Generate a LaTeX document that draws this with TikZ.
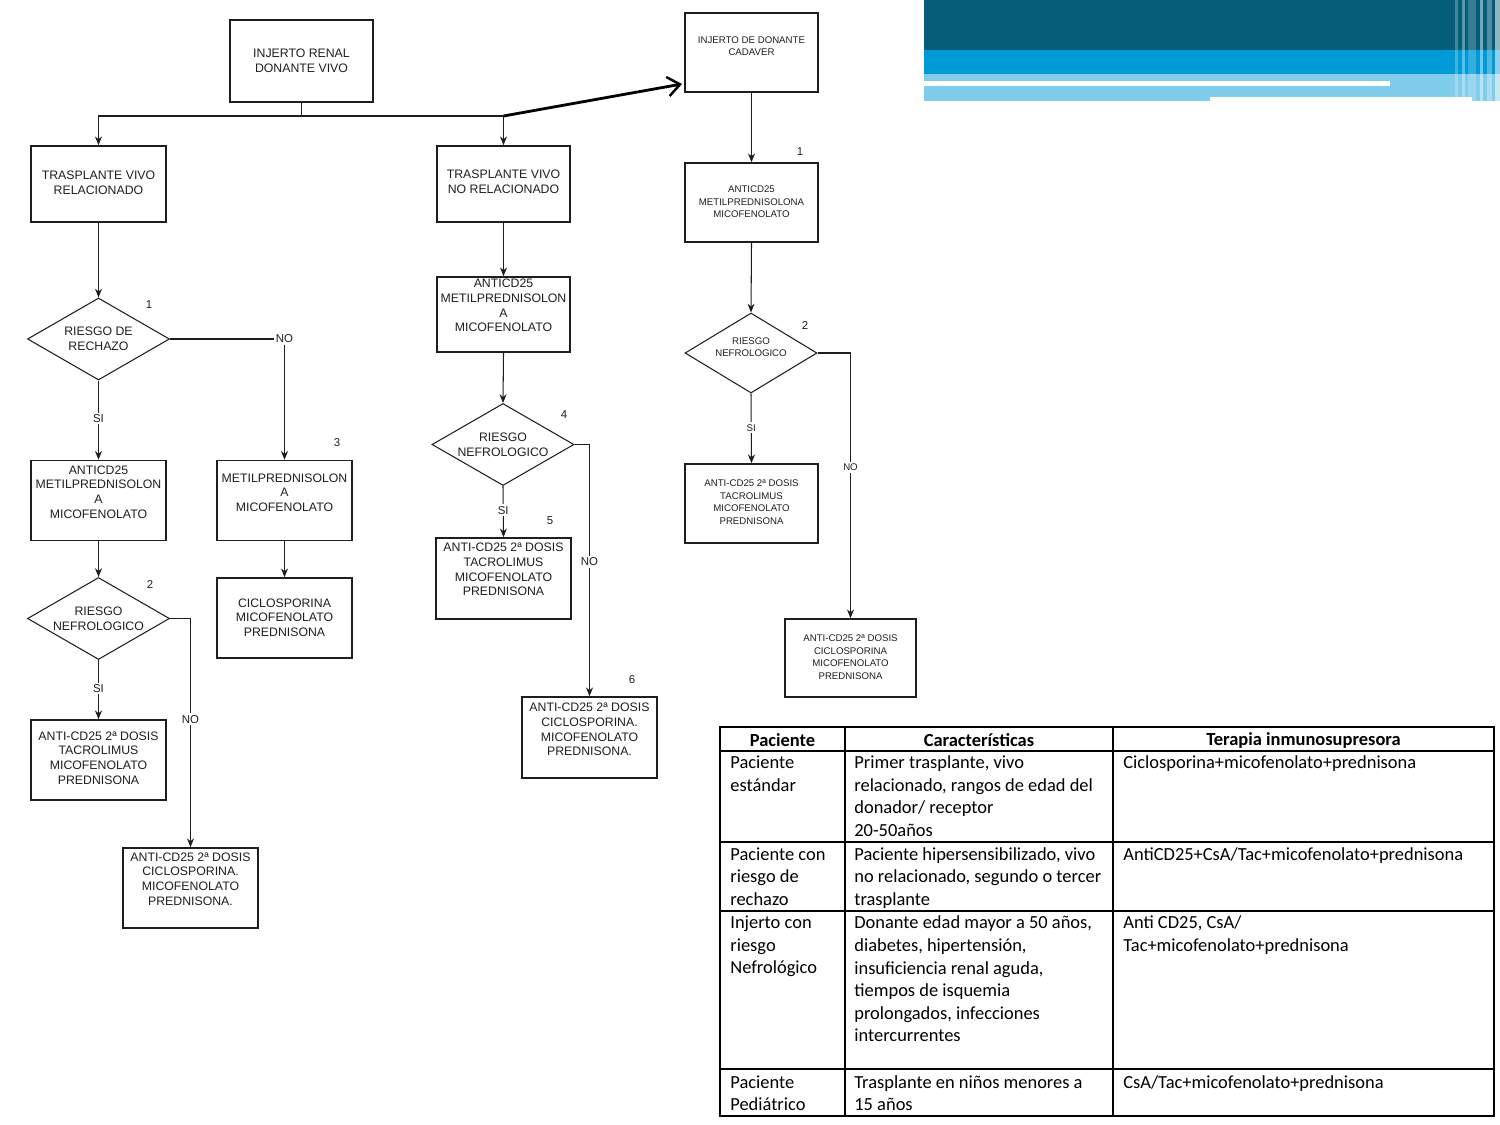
\documentclass[tikz,border=0pt]{standalone}
\usepackage{fontspec}
\setmainfont{Liberation Sans}
\newfontfamily\calib{Carlito}
\usetikzlibrary{arrows.meta,shapes.geometric}
\definecolor{bandA}{HTML}{055E79}
\definecolor{bandB}{HTML}{009AD6}
\definecolor{bandC}{HTML}{80CCEB}
\definecolor{ink}{HTML}{1E1E1E}
\begin{document}
\begin{tikzpicture}[x=0.02cm,y=-0.02cm,
  box/.style={draw=ink,line width=0.9pt,inner sep=0pt,minimum width=135*0.02cm,minimum height=80*0.02cm},
  ft/.style={font=\fontsize{7}{8.3}\selectfont,align=center,inner sep=0pt,text=ink},
  fs/.style={font=\fontsize{5.5}{7.1}\selectfont,align=center,inner sep=0pt,text=ink},
  dia/.style={diamond,draw=ink,line width=0.6pt,inner sep=0pt,aspect=1.73,minimum width=142*0.02cm,minimum height=82*0.02cm,font=\fontsize{7}{8.3}\selectfont,align=center,text=ink},
  ln/.style={draw=ink,line width=0.6pt},
  arr/.style={ln,-{Stealth[length=5pt,width=4pt]}},
  lab/.style={fill=white,inner sep=1pt,font=\fontsize{6.5}{7.5}\selectfont,text=ink},
  num/.style={inner sep=0pt,font=\fontsize{6.5}{7.5}\selectfont,text=ink},
  big/.style={draw=black,line width=1.6pt,-{Straight Barb[length=7pt,width=11pt,line width=1.4pt]}},
  tbl/.style={draw=black,line width=1.1pt},
  tc/.style={font=\calib\fontsize{10.5}{12.9}\selectfont,align=left,inner sep=0pt,anchor=north west,text=black},
  th/.style={font=\calib\bfseries\fontsize{10.5}{12.9}\selectfont,inner sep=0pt}
]
\useasboundingbox (0,0) rectangle (1500,1125);

% ---- decorative band ----
\fill[bandA] (924,0) rectangle (1500,50);
\fill[bandB] (924,50) rectangle (1500,74);
\fill[bandC] (924,74) rectangle (1500,101);
\fill[white] (924,81) rectangle (1390,86);
\fill[white] (1210,97) rectangle (1472,101);
\fill[white,opacity=0.25] (1455,0) rectangle (1458,101);
\fill[white,opacity=0.35] (1462,0) rectangle (1465,101);
\fill[white,opacity=0.2] (1468,0) rectangle (1476,101);
\fill[white,opacity=0.45] (1480,0) rectangle (1483,101);
\fill[white,opacity=0.3] (1487,0) rectangle (1492,101);
\fill[white,opacity=0.55] (1495,0) rectangle (1500,101);

% ---- top ----
\node[box,minimum width=143*0.02cm,minimum height=82*0.02cm] (A) at (301.5,61) {};
\node[ft] (At) at (301.5,61) {INJERTO RENAL\\DONANTE VIVO};
\node[box,minimum width=133*0.02cm,minimum height=79*0.02cm] (D) at (751.5,52.5) {};
\node[fs] (Dt) at (751.5,46) {INJERTO DE DONANTE\\CADAVER};

\node[box,minimum height=76*0.02cm] (B) at (98.5,184) {};
\node[ft] (Bt) at (98.5,183) {TRASPLANTE VIVO\\RELACIONADO};
\node[box,minimum width=133*0.02cm,minimum height=76*0.02cm] (C) at (503.5,184) {};
\node[ft] (Ct) at (503.5,182) {TRASPLANTE VIVO\\NO RELACIONADO};

\coordinate (jA) at (301.5,116);
\coordinate (jC) at (503.5,116);
\coordinate (Dtip) at (682,84);
\draw[ln] (A.south) -- (jA);
\draw[arr] (jA) -| (B.north);
\draw[arr] (jA) -| (C.north);
\draw[big] (jC) -- (Dtip);

% ---- left column ----
\node[dia] (R1) at (98.5,339) {RIESGO DE\\RECHAZO};
\node[num] (n1) at (149,305) {1};
\node[box] (E) at (98.5,500.5) {};
\node[ft] (Et) at (98.5,492) {ANTICD25\\METILPREDNISOLON\\A\\MICOFENOLATO};
\node[box] (F) at (284.5,500.5) {};
\node[ft] (Ft) at (284.5,492.5) {METILPREDNISOLON\\A\\MICOFENOLATO};
\node[num] (n3) at (337,443) {3};
\node[box] (G) at (284.5,618) {};
\node[ft] (Gt) at (284.5,617.5) {CICLOSPORINA\\MICOFENOLATO\\PREDNISONA};
\node[dia] (R2) at (98.5,618.5) {RIESGO\\NEFROLOGICO};
\node[num] (n2) at (150,585) {2};
\node[box] (H) at (98.5,760) {};
\node[ft] (Ht) at (98.5,758) {ANTI-CD25 2ª DOSIS\\TACROLIMUS\\MICOFENOLATO\\PREDNISONA};
\node[box] (I) at (190.5,888) {};
\node[ft] (It) at (190.5,879) {ANTI-CD25 2ª DOSIS\\CICLOSPORINA.\\MICOFENOLATO\\PREDNISONA.};

\draw[arr] (B.south) -- (R1.north);
\draw[arr] (R1.south) -- node[lab,pos=0.48]{SI} (E.north);
\draw[arr] (R1.east) -| node[lab,pos=0.5]{NO} (F.north);
\draw[arr] (F.south) -- (G.north);
\draw[arr] (E.south) -- (R2.north);
\draw[arr] (R2.south) -- node[lab,pos=0.48]{SI} (H.north);
\draw[arr] (R2.east) -| node[lab,pos=0.72]{NO} (I.north);

% ---- middle column ----
\node[box,minimum width=133*0.02cm,minimum height=75*0.02cm] (J) at (503.5,314.5) {};
\node[ft] (Jt) at (503.5,305.5) {ANTICD25\\METILPREDNISOLON\\A\\MICOFENOLATO};
\node[dia] (R4) at (503,444.5) {RIESGO\\NEFROLOGICO};
\node[num] (n4) at (564,415) {4};
\node[box,minimum height=81*0.02cm] (K) at (503.5,578.5) {};
\node[ft] (Kt) at (503.5,569.5) {ANTI-CD25 2ª DOSIS\\TACROLIMUS\\MICOFENOLATO\\PREDNISONA};
\node[num] (n5) at (550,521) {5};
\node[box,minimum height=81*0.02cm] (L) at (589.5,737.5) {};
\node[ft] (Lt) at (589.5,729.5) {ANTI-CD25 2ª DOSIS\\CICLOSPORINA.\\MICOFENOLATO\\PREDNISONA.};
\node[num] (n6) at (632,680) {6};

\draw[arr] (C.south) -- (J.north);
\draw[arr] (J.south) -- (R4.north);
\draw[arr] (R4.south) -- node[lab,pos=0.47]{SI} (K.north);
\draw[arr] (R4.east) -| node[lab,pos=0.733]{NO} (L.north);

% ---- right column ----
\node[box,minimum width=133*0.02cm,minimum height=79*0.02cm] (M) at (751.5,202.5) {};
\node[fs] (Mt) at (751.5,202) {ANTICD25\\METILPREDNISOLONA\\MICOFENOLATO};
\node[num] (n1b) at (800,152) {1};
\node[dia,minimum width=132*0.02cm,minimum height=80*0.02cm,aspect=1.65] (RR) at (751,353) {};
\node[fs] (RRt) at (751,347) {RIESGO\\NEFROLOGICO};
\node[num] (n2b) at (805,326) {2};
\node[box,minimum width=133*0.02cm,minimum height=79*0.02cm] (N) at (751.5,503.5) {};
\node[fs] (Nt) at (751.5,502) {ANTI-CD25 2ª DOSIS\\TACROLIMUS\\MICOFENOLATO\\PREDNISONA};
\node[box,minimum width=131*0.02cm,minimum height=78*0.02cm] (O) at (850.5,658) {};
\node[fs] (Ot) at (850.5,657) {ANTI-CD25 2ª DOSIS\\CICLOSPORINA\\MICOFENOLATO\\PREDNISONA};

\draw[arr] (D.south) -- (M.north);
\draw[arr] (M.south) -- (RR.north);
\draw[arr] (RR.south) -- node[lab,pos=0.49,font=\fontsize{5.5}{7}\selectfont]{SI} (N.north);
\draw[arr] (RR.east) -| node[lab,pos=0.716,font=\fontsize{5.5}{7}\selectfont]{NO} (O.north);

% ---- table ----
\draw[tbl] (720,727) rectangle (1494,1116);
\foreach \yy in {751,842,911,1069} \draw[tbl] (720,\yy) -- (1494,\yy);
\draw[tbl] (845,727) -- (845,1116);
\draw[tbl] (1113,727) -- (1113,1116);

\node[th] (h1) at (782.5,740) {Paciente};
\node[th] (h2) at (979,740) {Características};
\node[th] (h3) at (1303.5,740) {Terapia inmunosupresora};

\node[tc] (a1) at (730,755.5) {Paciente\\estándar};
\node[tc] (b1) at (854,755.5) {Primer trasplante, vivo\\relacionado, rangos de edad del\\donador/ receptor\\20-50años};
\node[tc] (c1) at (1123,755.5) {Ciclosporina+micofenolato+prednisona};

\node[tc] (a2) at (730,847) {Paciente con\\riesgo de\\rechazo};
\node[tc] (b2) at (854,847) {Paciente hipersensibilizado, vivo\\no relacionado, segundo o tercer\\trasplante};
\node[tc] (c2) at (1123,847) {AntiCD25+CsA/Tac+micofenolato+prednisona};

\node[tc] (a3) at (730,915.5) {Injerto con\\riesgo\\Nefrológico};
\node[tc] (b3) at (854,915.5) {Donante edad mayor a 50 años,\\diabetes, hipertensión,\\insuficiencia renal aguda,\\tiempos de isquemia\\prolongados, infecciones\\intercurrentes};
\node[tc] (c3) at (1123,915.5) {Anti CD25, CsA/\\Tac+micofenolato+prednisona};

\node[tc] (a4) at (730,1075) {Paciente\\Pediátrico};
\node[tc] (b4) at (854,1075) {Trasplante en niños menores a\\15 años};
\node[tc] (c4) at (1123,1075) {CsA/Tac+micofenolato+prednisona};
\end{tikzpicture}
\end{document}
